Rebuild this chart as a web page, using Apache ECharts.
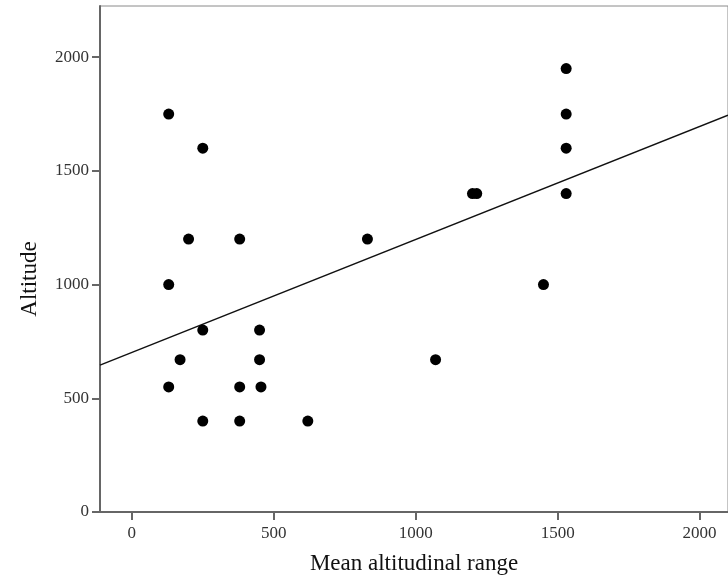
<!DOCTYPE html>
<html>
<head>
<meta charset="utf-8">
<script src="https://cdn.jsdelivr.net/npm/echarts@6/dist/echarts.min.js"></script>
<style>
  html, body { margin: 0; padding: 0; background: #ffffff; }
  #chart { width: 728px; height: 579px; }
</style>
</head>
<body>
<div id="chart"></div>
<script>
// values
var rangeX = [130, 250, 200, 380, 830, 130, 250, 450, 170, 450, 130, 380, 455, 250, 380, 620,
              1530, 1530, 1530, 1530, 1200, 1215, 1450, 1070];
var altitudeY = [1750, 1600, 1200, 1200, 1200, 1000, 800, 800, 670, 670, 550, 550, 550, 400, 400, 400,
                 1950, 1750, 1600, 1400, 1400, 1400, 1000, 670];

// fit line end points, as seen at the plot edges
var fitX = [-112, 2100];
var fitY = [646, 1745];

var xTicks = [0, 500, 1000, 1500, 2000];
var yTicks = [0, 500, 1000, 1500, 2000];

var chart = echarts.init(document.getElementById('chart'), null, { renderer: 'canvas' });

var points = rangeX.map(function (x, i) { return [x, altitudeY[i]]; });
var fitLine = fitX.map(function (x, i) { return [x, fitY[i]]; });

var axisFont = 'Liberation Serif';
function plain(v) { return String(v); }

var option = {
  backgroundColor: '#ffffff',
  animation: false,
  grid: {
    left: 100,
    right: 0,
    top: 6,
    bottom: 67,
    outerBoundsMode: 'none',
    containLabel: false,
    show: true,
    borderColor: '#8a8a8a',
    borderWidth: 1
  },
  xAxis: {
    type: 'value',
    min: -112,
    max: 2100,
    name: 'Mean altitudinal range',
    nameLocation: 'middle',
    nameGap: 40,
    nameTextStyle: { fontFamily: axisFont, fontSize: 23, color: '#111' },
    axisLine: { onZero: false, lineStyle: { color: '#666', width: 2 } },
    axisTick: { show: true, customValues: xTicks, length: 8, lineStyle: { color: '#666', width: 2 } },
    axisLabel: { customValues: xTicks, formatter: plain, margin: 13, fontFamily: axisFont, fontSize: 17, color: '#333' },
    splitLine: { show: false }
  },
  yAxis: {
    type: 'value',
    min: 0,
    max: 2225,
    axisLine: { show: true, onZero: false, lineStyle: { color: '#666', width: 2 } },
    axisTick: { show: true, customValues: yTicks, length: 8, lineStyle: { color: '#666', width: 2 } },
    axisLabel: { customValues: yTicks, formatter: plain, margin: 11, fontFamily: axisFont, fontSize: 17, color: '#333' },
    splitLine: { show: false }
  },
  graphic: [{
    type: 'text',
    x: 30,
    y: 279,
    rotation: Math.PI / 2,
    style: {
      text: 'Altitude',
      font: '23px "Liberation Serif"',
      fill: '#111',
      align: 'center',
      verticalAlign: 'middle'
    }
  }],
  series: [{
    type: 'line',
    data: fitLine,
    symbol: 'none',
    lineStyle: { color: '#111', width: 1.5 },
    z: 2
  }, {
    type: 'scatter',
    data: points,
    symbol: 'circle',
    symbolSize: 11,
    itemStyle: { color: '#000', opacity: 1 },
    z: 3
  }]
};

chart.setOption(option);
</script>
</body>
</html>
